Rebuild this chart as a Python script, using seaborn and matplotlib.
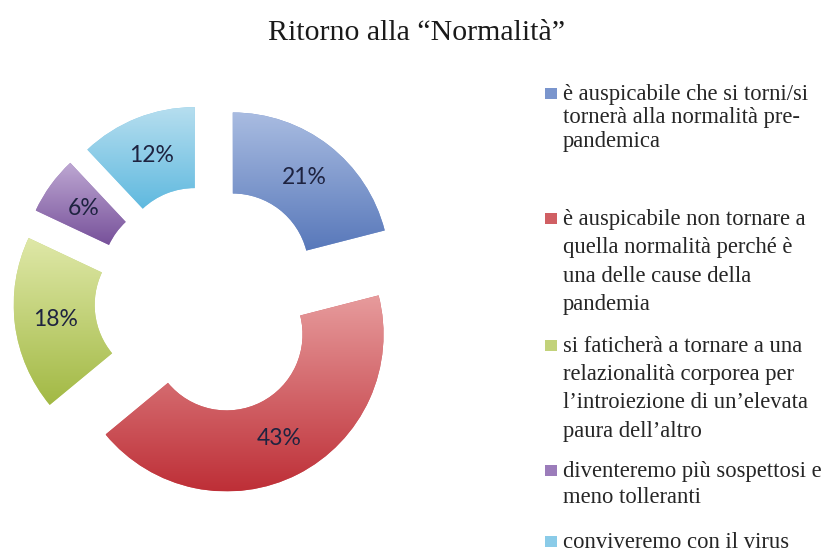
import matplotlib
matplotlib.use("Agg")
import matplotlib.pyplot as plt
from matplotlib.colors import LinearSegmentedColormap
from matplotlib.patches import Rectangle
import numpy as np
import seaborn as sns

# Dati del grafico
categorie = [
    "è auspicabile che si torni/si\ntornerà alla normalità pre-\npandemica",
    "è auspicabile non tornare a\nquella normalità perché è\nuna delle cause della\npandemia",
    "si faticherà a tornare a una\nrelazionalità corporea per\nl\u2019introiezione di un\u2019elevata\npaura dell\u2019altro",
    "diventeremo più sospettosi e\nmeno tolleranti",
    "conviveremo con il virus",
]
percentuali = [21, 43, 18, 6, 12]
titolo = "Ritorno alla \u201cNormalità\u201d"

# colori (chiaro in alto, scuro in basso) per il gradiente
colori_alto = ["#a9bce1", "#e79c9d", "#dfe8a8", "#bea8d3", "#b6deef"]
colori_basso = ["#5878ba", "#be2f37", "#a2b944", "#77519a", "#5fb9df"]
colori_legenda = ["#7a95cd", "#d05f63", "#c2d27a", "#9b7cba", "#8acbe8"]

sns.set_theme(style="white")
plt.rcParams["font.family"] = ["Liberation Serif", "DejaVu Serif"]

W, H = 829, 552
fig = plt.figure(figsize=(W / 100, H / 100), dpi=100)
fig.patch.set_facecolor("white")

# asse della ciambella: centro a (209, 300) px, raggio 157 px
R_PX = 157
cx, cy = 209, 300
ax = fig.add_axes([0, 0, 420 / W, 1])

wedges, testi = ax.pie(
    percentuali,
    startangle=90,
    counterclock=False,
    explode=[0.246] * len(percentuali),
    radius=1.0,
    colors=colori_legenda,
    autopct="%.0f%%",
    pctdistance=0.742,
    wedgeprops=dict(width=0.516, linewidth=0),
    textprops=dict(fontsize=16.5, color="#1e2340", family=["Lato", "DejaVu Sans"]),
)[:2]
autotesti = ax.texts

# gradiente verticale dentro ogni spicchio
for w, c_top, c_bot in zip(wedges, colori_alto, colori_basso):
    ext = w.get_path().get_extents()
    cmap = LinearSegmentedColormap.from_list("g", [c_bot, c_top])
    grad = np.linspace(0, 1, 256).reshape(-1, 1)
    im = ax.imshow(grad, cmap=cmap, origin="lower", aspect="auto",
                   extent=[ext.x0, ext.x1, ext.y0, ext.y1], zorder=1.5,
                   interpolation="bilinear")
    im.set_clip_path(w)

for t in autotesti:
    t.set_zorder(3)

ax.set_xlim(-cx / R_PX, (420 - cx) / R_PX)
ax.set_ylim(-(H - cy) / R_PX, cy / R_PX)
ax.set_aspect("auto")
ax.axis("off")

# titolo
fig.text(417 / W, 1 - 40 / H, titolo, ha="center", va="baseline",
         fontsize=21.5, color="#1a1a1a")

# legenda disegnata a mano
basi = [[100, 123.5, 147], [225, 253, 282, 310], [352, 380, 408, 437],
        [477, 503], [548]]
for etichetta, col, ys in zip(categorie, colori_legenda, basi):
    righe = etichetta.split("\n")
    for riga, y in zip(righe, ys):
        fig.text(563 / W, 1 - y / H, riga, ha="left", va="baseline",
                 fontsize=16.3, color="#262626")
    y0 = ys[0]
    fig.patches.append(Rectangle((545 / W, 1 - (y0 - 1) / H), 12 / W, 11 / H,
                                 transform=fig.transFigure, facecolor=col,
                                 edgecolor="none"))

fig.savefig("out.png", dpi=100, facecolor="white")
